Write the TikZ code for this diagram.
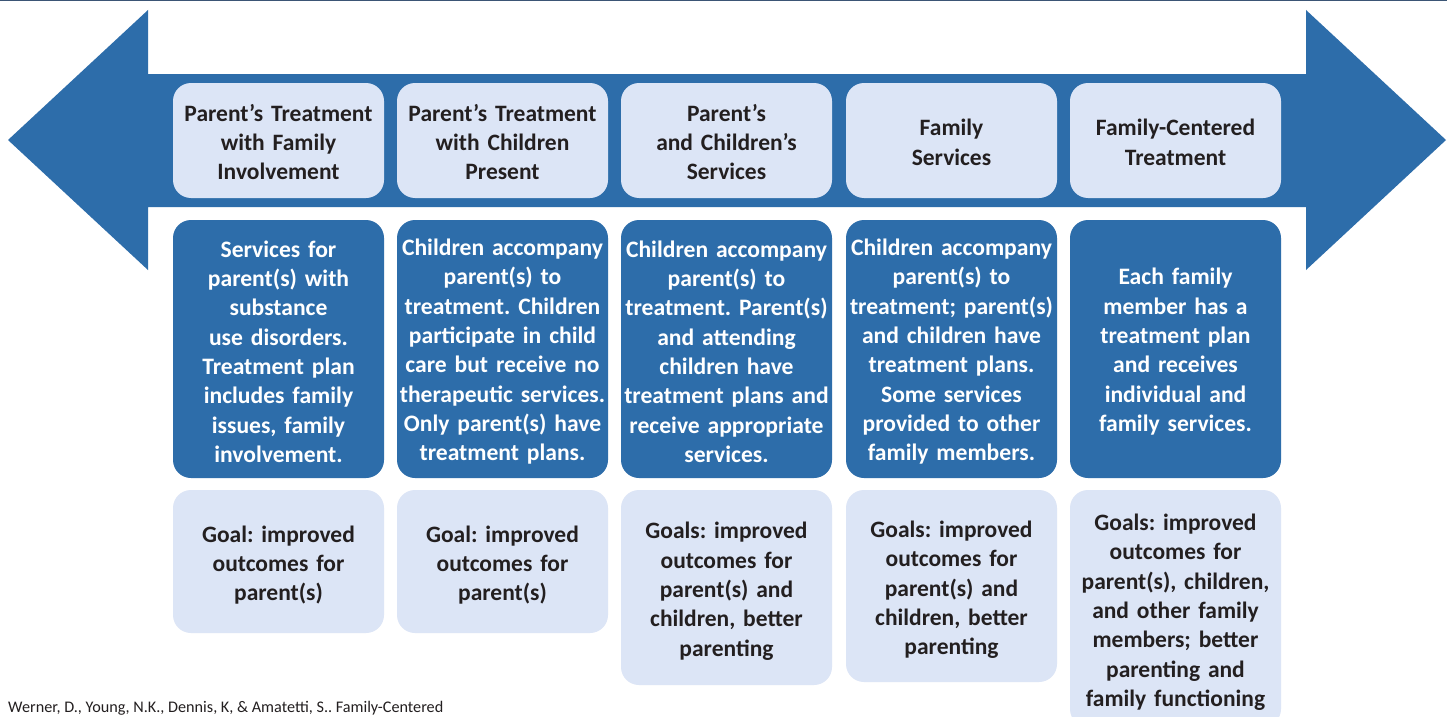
\documentclass[tikz,border=0pt]{standalone}
\usepackage{fontspec}
\setmainfont{Carlito}
\frenchspacing
\definecolor{arrowblue}{HTML}{2D6DAA}
\definecolor{lightbox}{HTML}{DCE5F6}
\definecolor{darktext}{HTML}{231F20}
\definecolor{navyline}{HTML}{3B5575}
\tikzset{
  boxbase/.style={rectangle, rounded corners=18pt, text width=211pt, align=center, inner sep=0pt},
  topbox/.style={boxbase, fill=lightbox, text=darktext, minimum height=115pt,
    font=\bfseries\fontsize{23.5}{29.3}\selectfont, execute at begin node={\rule{0pt}{20pt}}},
  darkbox/.style={boxbase, fill=arrowblue, text=white, minimum height=258pt,
    font=\bfseries\fontsize{23.6}{29.3}\selectfont, execute at begin node={\rule{0pt}{22pt}}},
  goalbox/.style={boxbase, fill=lightbox, text=darktext,
    font=\bfseries\fontsize{23.5}{29.3}\selectfont, execute at begin node={\rule{0pt}{24pt}}},
}
\begin{document}
\begin{tikzpicture}[x=1pt,y=-1pt]
\clip (0,0) rectangle (1453,717);
\fill[white] (0,0) rectangle (1453,717);
\draw[navyline, line width=2pt] (0,0.5) -- (1447,0.5);
% double arrow
\fill[arrowblue] (8,140) -- (148,10) -- (148,74) -- (1306,74) -- (1306,10) -- (1446,140)
  -- (1306,270) -- (1306,207) -- (148,207) -- (148,270) -- cycle;
% top boxes
\node[topbox] (t1) at (278.5,140.5) {Parent’s Treatment\\with Family\\Involvement};
\node[topbox] (t2) at (502.5,140.5) {Parent’s Treatment\\with Children\\Present};
\node[topbox] (t3) at (726.5,140.5) {Parent’s\\and Children’s\\Services};
\node[topbox] (t4) at (951.5,140.5) {Family\\Services};
\node[topbox] (t5) at (1175.5,140.5) {Family-Centered\\Treatment};
% dark boxes
\node[darkbox] (d1) at (278.5,349) {Services for\\parent(s) with\\substance\\use disorders.\\Treatment plan\\includes family\\issues, family\\involvement.};
\node[darkbox] (d2) at (502.5,349) {Children accompany\\parent(s) to\\treatment. Children\\participate in child\\care but receive no\\therapeutic services.\\Only parent(s) have\\treatment plans.};
\node[darkbox] (d3) at (726.5,349) {Children accompany\\parent(s) to\\treatment. Parent(s)\\and attending\\children have\\treatment plans and\\receive appropriate\\services.};
\node[darkbox] (d4) at (951.5,349) {Children accompany\\parent(s) to\\treatment; parent(s)\\and children have\\treatment plans.\\Some services\\provided to other\\family members.};
\node[darkbox] (d5) at (1175.5,349) {Each family\\member has a\\treatment plan\\and receives\\individual and\\family services.};
% goal boxes
\node[goalbox, minimum height=143pt] (g1) at (278.5,561.5) {Goal: improved\\outcomes for\\parent(s)};
\node[goalbox, minimum height=143pt] (g2) at (502.5,561.5) {Goal: improved\\outcomes for\\parent(s)};
\node[goalbox, minimum height=195pt] (g3) at (726.5,587.5) {Goals: improved\\outcomes for\\parent(s) and\\children, better\\parenting};
\node[goalbox, minimum height=192pt] (g4) at (951.5,586) {Goals: improved\\outcomes for\\parent(s) and\\children, better\\parenting};
\node[goalbox, minimum height=237pt] (g5) at (1175.5,608.5) {Goals: improved\\outcomes for\\parent(s), children,\\and other family\\members; better\\parenting and\\family functioning};
% citation
\node[anchor=base west, inner sep=0pt, font=\fontsize{16.2}{19}\selectfont, text=darktext] (cite) at (8,712) {Werner, D., Young, N.K., Dennis, K, \& Amatetti, S.. Family-Centered};
\end{tikzpicture}
\end{document}
